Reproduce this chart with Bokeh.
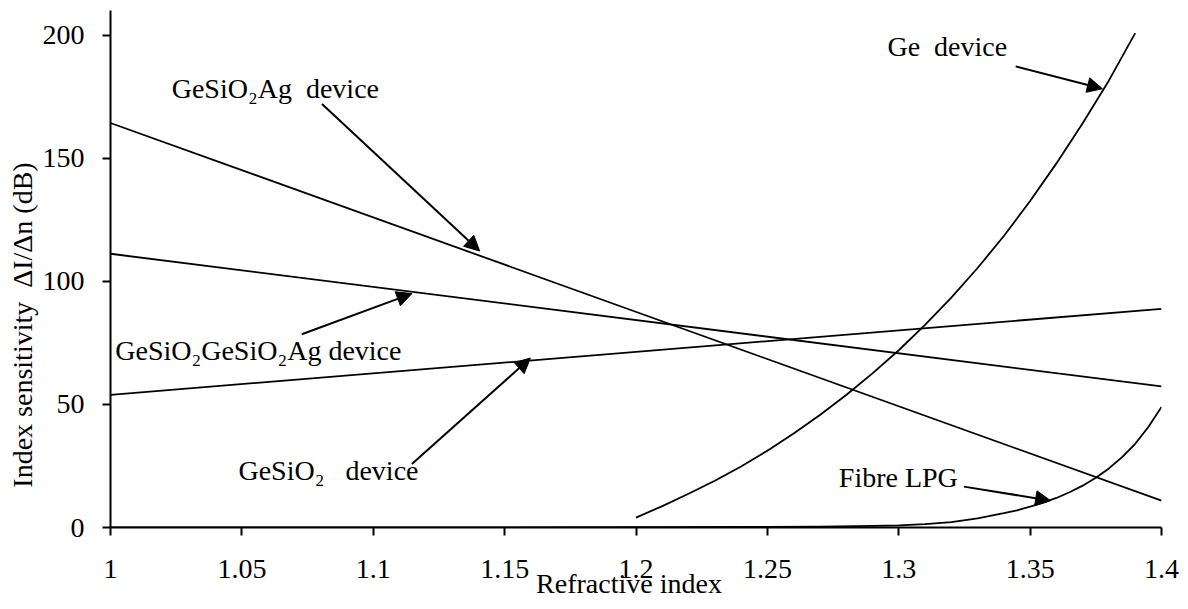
from bokeh.plotting import figure
from bokeh.models import Range1d, FixedTicker, CustomJSTickFormatter, Label, Arrow, NormalHead
from bokeh.embed import file_html
from bokeh.resources import INLINE

# ---- data ----
x_lin = [1.0, 1.4]
gesio2ag = [164.3, 10.9]
gesio2gesio2ag = [111.2, 57.3]
gesio2 = [53.9, 88.8]

ge_x = [1.20, 1.21, 1.22, 1.23, 1.24, 1.25, 1.26, 1.27, 1.28, 1.29,
        1.30, 1.31, 1.32, 1.33, 1.34, 1.35, 1.36, 1.37, 1.38, 1.39]
ge_y = [4.0, 8.7, 13.7, 19.0, 24.8, 31.2, 38.2, 45.7, 53.8, 62.6,
        72.0, 82.3, 93.4, 105.4, 118.4, 132.6, 147.9, 164.2, 181.6, 200.8]

lpg_x = [1.00, 1.05, 1.10, 1.15, 1.20, 1.25, 1.27, 1.29, 1.30, 1.31, 1.32,
         1.33, 1.34, 1.345, 1.35, 1.355, 1.36, 1.365, 1.37, 1.375, 1.38,
         1.385, 1.39, 1.395, 1.40]
lpg_y = [0, 0, 0, 0, 0.1, 0.2, 0.35, 0.7, 0.9, 1.4, 2.2,
         3.7, 5.8, 7.0, 8.5, 10.1, 12.0, 14.3, 17.0, 20.2, 24.0,
         28.6, 34.0, 40.8, 49.0]

x_ticks = [1.0, 1.05, 1.1, 1.15, 1.2, 1.25, 1.3, 1.35, 1.4]
y_ticks = [0, 50, 100, 150, 200]

NB = "\u00a0"
x_title = "Refractive index" + NB * 2
y_title = "Index sensitivity " + NB + "\u0394I/\u0394n (dB)" + NB * 16

# annotation texts and anchor points (data units)
label_texts = ["Ge" + NB + " device",
               "GeSiO\u2082Ag" + NB + " device",
               "GeSiO\u2082GeSiO\u2082Ag device",
               "GeSiO\u2082" + NB + NB + " device",
               "Fibre LPG"]
label_x = [1.2957, 1.0233, 1.0018, 1.0487, 1.2772]
label_y = [195.4, 178.5, 71.7, 23.1, 20.4]

arrow_x0 = [1.3445, 1.0805, 1.0728, 1.1147, 1.3248]
arrow_y0 = [187.3, 172.0, 78.5, 25.8, 16.6]
arrow_x1 = [1.3775, 1.1405, 1.1147, 1.1598, 1.3578]
arrow_y1 = [178.2, 112.3, 95.0, 68.8, 10.9]

FONT = "Liberation Serif"

p = figure(width=1180, height=609, output_backend="svg", toolbar_location=None,
           x_range=Range1d(1.0, 1.4), y_range=Range1d(0, 210),
           min_border_left=110, min_border_right=19, min_border_top=10, min_border_bottom=82)
p.outline_line_color = None
p.xgrid.visible = False
p.ygrid.visible = False
p.background_fill_color = "white"
p.border_fill_color = "white"

lw = 1.8
p.line(x_lin, gesio2ag, line_color="black", line_width=lw)
p.line(x_lin, gesio2gesio2ag, line_color="black", line_width=lw)
p.line(x_lin, gesio2, line_color="black", line_width=lw)
p.line(ge_x, ge_y, line_color="black", line_width=lw, line_join="round")
p.line(lpg_x, lpg_y, line_color="black", line_width=lw, line_join="round")

for ax in (p.xaxis[0], p.yaxis[0]):
    ax.axis_line_width = 2
    ax.axis_line_color = "black"
    ax.major_tick_line_width = 2
    ax.major_tick_line_color = "black"
    ax.major_tick_out = 8
    ax.major_tick_in = 0
    ax.minor_tick_out = 0
    ax.minor_tick_in = 0
    ax.major_label_text_font = FONT
    ax.major_label_text_font_size = "28px"
    ax.major_label_text_color = "black"
    ax.axis_label_text_font = FONT
    ax.axis_label_text_font_size = "28px"
    ax.axis_label_text_font_style = "normal"
    ax.axis_label_text_color = "black"

p.xaxis.ticker = FixedTicker(ticks=x_ticks)
p.yaxis.ticker = FixedTicker(ticks=y_ticks)
p.xaxis.formatter = CustomJSTickFormatter(code="return String(Math.round(tick*100)/100);")
p.xaxis.major_label_standoff = 24
p.yaxis.major_label_standoff = 18

p.xaxis.axis_label = x_title
p.xaxis.axis_label_standoff = -13
p.yaxis.axis_label = y_title
p.yaxis.axis_label_standoff = 2

for t, lx, ly in zip(label_texts, label_x, label_y):
    p.add_layout(Label(x=lx, y=ly, text=t, text_font=FONT, text_font_size="28px",
                       text_align="left", text_baseline="middle", text_color="black"))

for x0, y0, x1, y1 in zip(arrow_x0, arrow_y0, arrow_x1, arrow_y1):
    p.add_layout(Arrow(x_start=x0, y_start=y0, x_end=x1, y_end=y1,
                       line_color="black", line_width=2,
                       end=NormalHead(size=15, fill_color="black", line_color="black")))

open("out.html", "w").write(file_html(p, INLINE))
